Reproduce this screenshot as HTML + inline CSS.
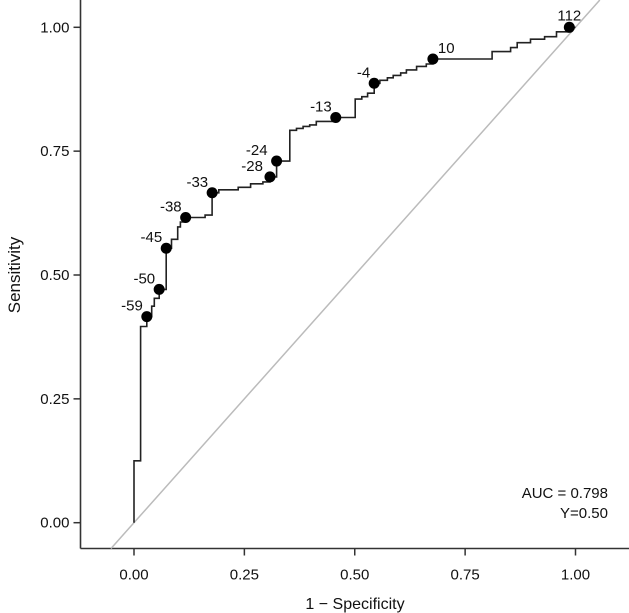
<!DOCTYPE html>
<html><head><meta charset="utf-8"><style>
html,body{margin:0;padding:0;background:#fff;}
svg{display:block;font-family:"Liberation Sans",Arial,sans-serif;}
</style></head><body>
<svg id="chart" width="629" height="613" viewBox="0 0 629 613" xmlns="http://www.w3.org/2000/svg">
<g id="axes"></g>
<g id="marks"></g>
<text x="608" y="498" text-anchor="end" font-size="15" fill="#111">AUC = 0.798</text>
<text x="608" y="518" text-anchor="end" font-size="15" fill="#111">Y=0.50</text>
<text x="355" y="609" text-anchor="middle" font-size="16" fill="#111">1 − Specificity</text>
<text transform="translate(20,275) rotate(-90)" text-anchor="middle" font-size="17" fill="#111">Sensitivity</text>
</svg>
<script>
// ROC curve vertices (1-specificity, sensitivity)
const rocFpr = [0,0,0.015,0.015,0.029,0.029,0.040,0.040,0.046,0.046,0.057,0.057,0.073,0.073,0.085,0.085,0.099,0.099,0.105,0.105,0.117,0.117,0.161,0.161,0.177,0.177,0.192,0.192,0.236,0.236,0.264,0.264,0.292,0.292,0.308,0.308,0.323,0.323,0.353,0.353,0.368,0.368,0.383,0.383,0.398,0.398,0.413,0.413,0.457,0.457,0.501,0.501,0.516,0.516,0.529,0.529,0.544,0.544,0.557,0.557,0.574,0.574,0.587,0.587,0.604,0.604,0.617,0.617,0.640,0.640,0.662,0.662,0.677,0.677,0.811,0.811,0.853,0.853,0.868,0.868,0.898,0.898,0.930,0.930,0.957,0.957,0.986,0.986,1.0];
const rocTpr = [0,0.125,0.125,0.396,0.396,0.416,0.416,0.437,0.437,0.453,0.453,0.471,0.471,0.554,0.554,0.572,0.572,0.597,0.597,0.607,0.607,0.616,0.616,0.621,0.621,0.666,0.666,0.672,0.672,0.677,0.677,0.684,0.684,0.688,0.688,0.698,0.698,0.730,0.730,0.792,0.792,0.796,0.796,0.800,0.800,0.803,0.803,0.810,0.810,0.818,0.818,0.855,0.855,0.860,0.860,0.867,0.867,0.887,0.887,0.893,0.893,0.898,0.898,0.903,0.903,0.908,0.908,0.914,0.914,0.921,0.921,0.926,0.926,0.936,0.936,0.951,0.951,0.959,0.959,0.969,0.969,0.976,0.976,0.981,0.981,0.991,0.991,1.0,1.0];
// Labelled cutoffs
const cutLabels = ["-59","-50","-45","-38","-33","-28","-24","-13","-4","10","112"];
const cutFpr = [0.029,0.057,0.073,0.117,0.177,0.308,0.323,0.457,0.544,0.677,0.986];
const cutTpr = [0.416,0.471,0.554,0.616,0.666,0.698,0.730,0.818,0.887,0.936,1.0];
const xTicks = [0,0.25,0.5,0.75,1];
const xTickLabels = ["0.00","0.25","0.50","0.75","1.00"];
const yTicks = [0,0.25,0.5,0.75,1];
const yTickLabels = ["0.00","0.25","0.50","0.75","1.00"];

const NS = "http://www.w3.org/2000/svg";
const X0 = 134, X1 = 575.5, Y0 = 522.7, Y1 = 27.3;
function sx(v){ return X0 + v*(X1-X0); }
function sy(v){ return Y0 - v*(Y0-Y1); }
function mk(tag, attrs, parent){
  const e = document.createElementNS(NS, tag);
  for (const k in attrs) e.setAttribute(k, attrs[k]);
  parent.appendChild(e); return e;
}
const axes = document.getElementById('axes');
const marks = document.getElementById('marks');
const AX = 80.5, AY = 548.5;

const yBot = (Y0-AY)/(Y0-Y1), yTop = Y0/(Y0-Y1);
const diag = mk('line', {x1:sx(yBot), y1:AY, x2:sx(yTop), y2:0, stroke:'#bbbbbb', 'stroke-width':1.5}, marks);



const yax = mk('line', {x1:AX, y1:0, x2:AX, y2:AY, stroke:'#333', 'stroke-width':1.6}, axes);


const xax = mk('line', {x1:AX, y1:AY, x2:629, y2:AY, stroke:'#333', 'stroke-width':1.6}, axes);



xTicks.forEach((t,i)=>{
  const tk = mk('line', {x1:sx(t), y1:AY, x2:sx(t), y2:AY+7, stroke:'#333', 'stroke-width':1.5}, axes);
  
  
  const tl = mk('text', {x:sx(t), y:AY+31, 'text-anchor':'middle', 'font-size':15, fill:'#111'}, axes);
  tl.textContent = xTickLabels[i];
  
  
});
yTicks.forEach((t,i)=>{
  const tk = mk('line', {x1:AX-7, y1:sy(t), x2:AX, y2:sy(t), stroke:'#333', 'stroke-width':1.5}, axes);
  
  
  const tl = mk('text', {x:AX-11, y:sy(t)+5, 'text-anchor':'end', 'font-size':15, fill:'#111'}, axes);
  tl.textContent = yTickLabels[i];
  
  
});

let d = '';
rocFpr.forEach((f,i)=>{ d += (i?'L':'M') + sx(f).toFixed(1) + ' ' + sy(rocTpr[i]).toFixed(1) + ' '; });
const curve = mk('path', {d:d, fill:'none', stroke:'#222', 'stroke-width':1.6}, marks);



cutLabels.forEach((lab,i)=>{
  const cx = sx(cutFpr[i]), cy = sy(cutTpr[i]);
  const c = mk('circle', {cx:cx, cy:cy, r:5.5, fill:'#000'}, marks);
  
  
  let tx = cx-4, ty = cy-6, anc = 'end';
  if (lab === '10') { tx = cx+5; ty = cy-6; anc = 'start'; }
  if (lab === '112') { tx = cx; ty = cy-7; anc = 'middle'; }
  if (lab === '-24') { tx = cx-9; }
  if (lab === '-28') { tx = cx-7; }
  const t = mk('text', {x:tx, y:ty, 'text-anchor':anc, 'font-size':15, fill:'#111'}, marks);
  t.textContent = lab;
  
  
});
</script>
</body></html>
